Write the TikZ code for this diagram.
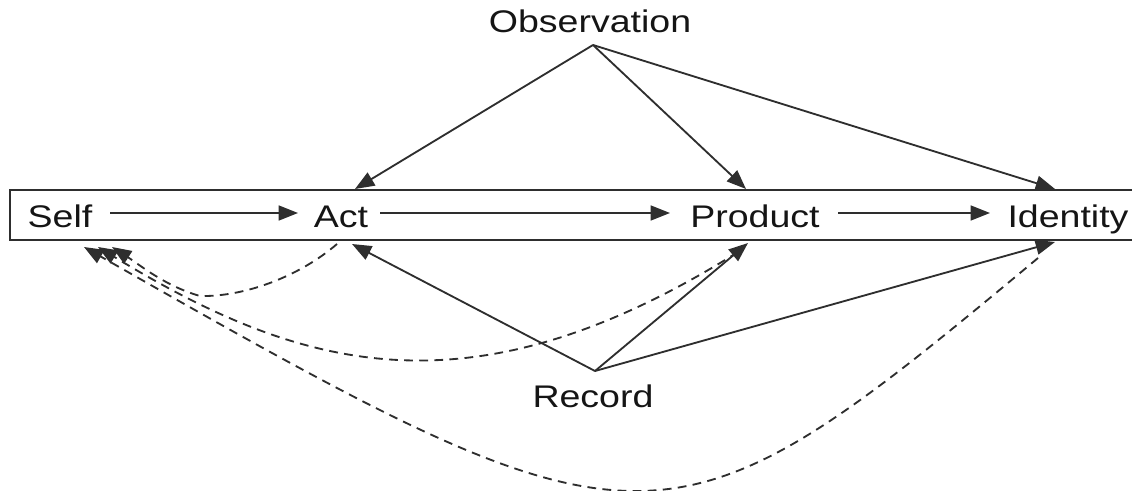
\documentclass[tikz,border=0pt]{standalone}
\usepackage{fontspec}
\setmainfont{Liberation Sans}[FakeStretch=1.2]
\usetikzlibrary{arrows.meta}
\definecolor{ink}{HTML}{2E2E2E}
\definecolor{txt}{HTML}{151515}
\tikzset{
  conn/.style={draw=ink, line width=1.05pt, -{Triangle[length=11pt,width=8.5pt]}},
  dconn/.style={conn, dash pattern=on 5pt off 3.6pt},
  lbl/.style={anchor=base, inner sep=0pt, text=txt, font=\fontsize{17.8pt}{20pt}\selectfont},
  frame/.style={draw=ink, line width=1.1pt},
}
\begin{document}
\begin{tikzpicture}[x=0.02cm,y=-0.02cm]
\useasboundingbox (0,0) rectangle (1132,490);
% band
\draw[frame] (1132,190) -- (10,190) -- (10,240) -- (1132,240);
% labels
\node[lbl] (self) at (60,227) {Self};
\node[lbl] (act) at (341,227) {Act};
\node[lbl] (product) at (755,227) {Product};
\node[lbl] (identity) at (1068,227) {Identity};
\node[lbl] (obs) at (590,32) {Observation};
\node[lbl] (rec) at (593,407) {Record};
% anchor points
\coordinate (obsP) at (593,45);
\coordinate (recP) at (595,371);
\coordinate (actT) at (355,189);
\coordinate (prodT) at (746,189);
\coordinate (idT) at (1055,189);
\coordinate (actB) at (352,244);
\coordinate (prodB) at (748,243);
\coordinate (idB) at (1055,242);
\coordinate (selfR) at (110,213);
\coordinate (actL) at (298,213);
\coordinate (actR) at (380,213);
\coordinate (prodL) at (670,213);
\coordinate (prodR) at (838,213);
\coordinate (idL) at (990,213);
\coordinate (actD) at (337,244);
\coordinate (prodD) at (738,252);
\coordinate (idD) at (1038,258);
\coordinate (selfA) at (84,247);
\coordinate (selfB) at (98,247);
\coordinate (selfC) at (112,247);
% horizontal chain
\draw[conn] (selfR) -- (actL);
\draw[conn] (actR) -- (prodL);
\draw[conn] (prodR) -- (idL);
% observation
\draw[conn] (obsP) -- (actT);
\draw[conn] (obsP) -- (prodT);
\draw[conn] (obsP) -- (idT);
% record
\draw[conn] (recP) -- (actB);
\draw[conn] (recP) -- (prodB);
\draw[conn] (recP) -- (idB);
% dashed feedback to self
\draw[dconn] (actD) .. controls (300,276) and (245,297) .. (200,296)
  .. controls (165,286) and (140,265) .. (selfC);
\draw[dconn] (prodD) .. controls (470,420) and (300,370) .. (selfB);
\draw[dconn] (idD) .. controls (665,569) and (649,569) .. (selfA);
\end{tikzpicture}
\end{document}
